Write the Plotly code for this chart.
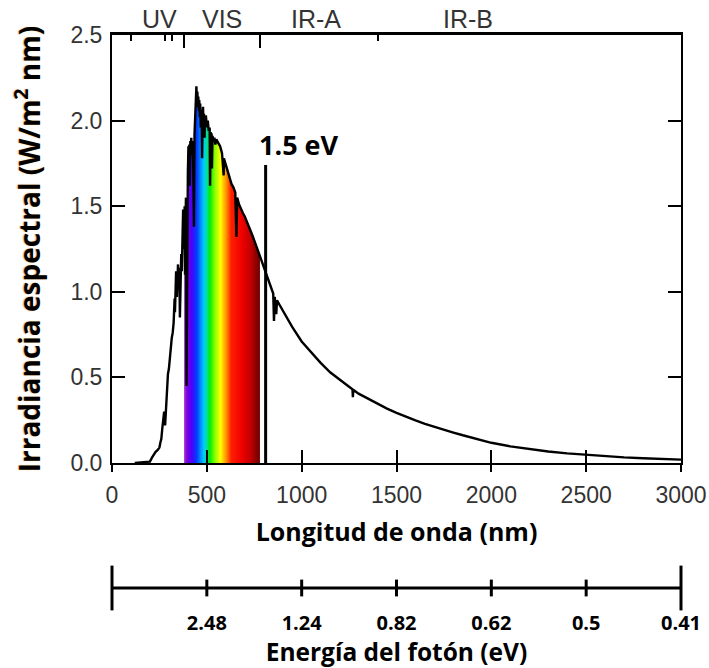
import plotly.graph_objects as go

# ---------------- data (rows of 10 correspond between the two lists) ----------------
wavelength_nm = [
    120, 160, 200, 210, 220, 230, 240, 250, 255, 260,
    265, 270, 275, 280, 285, 290, 295, 300, 305, 310,
    315, 320, 325, 330, 332, 335, 338, 340, 342, 345,
    348, 350, 355, 358, 360, 362, 365, 368, 370, 372,
    375, 378, 380, 383, 385, 388, 390, 393, 395, 397,
    400, 403, 405, 408, 410, 413, 415, 418, 420, 423,
    425, 428, 430, 432, 435, 438, 440, 443, 445, 448,
    450, 453, 455, 458, 460, 463, 465, 468, 470, 473,
    475, 478, 480, 483, 485, 488, 490, 493, 495, 500,
    505, 510, 515, 517, 520, 525, 527, 530, 535, 540,
    545, 550, 560, 570, 580, 589, 590, 600, 610, 620,
    630, 640, 650, 656, 660, 670, 680, 690, 700, 720,
    740, 760, 780, 800, 820, 840, 850, 854, 858, 866,
    870, 880, 900, 920, 950, 1000, 1050, 1100, 1150, 1200,
    1250, 1268, 1270, 1272, 1300, 1350, 1400, 1450, 1500, 1550,
    1600, 1650, 1700, 1750, 1800, 1850, 1900, 1950, 2000, 2100,
    2200, 2300, 2400, 2500, 2600, 2700, 2800, 2900, 3000,
]
irradiance = [
    0.0, 0.004, 0.008, 0.03, 0.05, 0.065, 0.075, 0.09, 0.12, 0.14,
    0.20, 0.26, 0.30, 0.22, 0.35, 0.47, 0.52, 0.55, 0.62, 0.66,
    0.73, 0.76, 0.82, 0.96, 0.88, 1.00, 1.12, 1.08, 0.97, 1.12,
    1.16, 1.04, 1.14, 0.85, 1.08, 1.15, 1.22, 1.12, 1.35, 1.28,
    1.48, 1.30, 1.25, 1.50, 1.10, 1.45, 1.55, 0.45, 1.20, 0.55,
    1.70, 1.85, 1.72, 1.86, 1.62, 1.88, 1.80, 1.90, 1.84, 1.88,
    1.86, 1.75, 1.50, 1.38, 1.92, 1.98, 2.05, 2.12, 2.20, 2.10,
    2.17, 2.08, 2.14, 2.06, 2.12, 2.02, 2.10, 1.96, 2.06, 2.00,
    1.78, 2.04, 2.08, 1.94, 2.04, 1.90, 2.02, 1.98, 2.03, 1.96,
    2.00, 1.94, 1.96, 1.62, 1.93, 1.92, 1.72, 1.91, 1.88, 1.90,
    1.86, 1.89, 1.87, 1.85, 1.81, 1.68, 1.78, 1.74, 1.71, 1.67,
    1.63, 1.61, 1.58, 1.32, 1.55, 1.51, 1.48, 1.46, 1.44, 1.39,
    1.33, 1.27, 1.21, 1.14, 1.08, 1.02, 0.99, 0.83, 0.97, 0.87,
    0.95, 0.93, 0.89, 0.855, 0.795, 0.71, 0.645, 0.585, 0.53, 0.485,
    0.445, 0.43, 0.385, 0.428, 0.405, 0.375, 0.345, 0.318, 0.293, 0.27,
    0.249, 0.229, 0.211, 0.194, 0.178, 0.162, 0.147, 0.132, 0.118, 0.097,
    0.08, 0.067, 0.056, 0.047, 0.04, 0.033, 0.028, 0.024, 0.02,
]
assert len(wavelength_nm) == len(irradiance)

visible_range = [380, 780]
marker_wl = 810          # 1.5 eV marker line
marker_top = 1.74
marker_label = "1.5 eV"
marker_label_wl = 765
marker_label_y = 1.86

wl_range = [0, 3000]
irr_range = [0, 2.5]
wl_ticks = [0, 500, 1000, 1500, 2000, 2500, 3000]
energy_tick_wl = [500, 1000, 1500, 2000, 2500, 3000]
energy_labels = ["2.48", "1.24", "0.82", "0.62", "0.5", "0.41"]

band_bounds_major = [380, 780]
band_bounds_minor = [100, 280, 315, 1400]
band_labels = ["UV", "VIS", "IR-A", "IR-B"]
band_label_wl = [253, 582, 1075, 1879]

rainbow = [
    [0.00, "#a040c8"], [0.04, "#8000e0"], [0.10, "#4a00ff"], [0.17, "#0040ff"],
    [0.22, "#0090ff"], [0.26, "#00c8ff"], [0.30, "#00e0a0"], [0.34, "#00f000"],
    [0.41, "#90ff00"], [0.48, "#ffff00"], [0.55, "#ff9900"], [0.62, "#ff2000"],
    [0.76, "#f00000"], [0.88, "#c00000"], [1.00, "#6a0000"],
]

vis_wl = [w for w in wavelength_nm if visible_range[0] <= w <= visible_range[1]]
vis_irr = [v for w, v in zip(wavelength_nm, irradiance) if visible_range[0] <= w <= visible_range[1]]

TICK_FONT = dict(family="Liberation Sans, Arial, sans-serif", size=23, color="#333333")
BOLD_FONT = "Open Sans, Lato, sans-serif"

fig = go.Figure()

# rainbow fill of the visible band
fig.add_trace(go.Scatter(
    x=vis_wl, y=vis_irr, mode="lines", line=dict(width=0),
    fill="tozeroy", fillgradient=dict(type="horizontal", colorscale=rainbow),
    hoverinfo="skip", showlegend=False, xaxis="x", yaxis="y",
))
# spectrum line
fig.add_trace(go.Scatter(
    x=wavelength_nm, y=irradiance, mode="lines",
    line=dict(color="black", width=2.4), showlegend=False, xaxis="x", yaxis="y",
))
# 1.5 eV marker line
fig.add_trace(go.Scatter(
    x=[marker_wl, marker_wl], y=[0, marker_top], mode="lines",
    line=dict(color="black", width=3), showlegend=False, xaxis="x", yaxis="y",
))

# photon energy axis (drawn as a line with tick marks)
fig.add_trace(go.Scatter(
    x=wl_range, y=[0, 0], mode="lines", line=dict(color="black", width=3),
    showlegend=False, xaxis="x2", yaxis="y2", cliponaxis=False, hoverinfo="skip",
))
fig.add_trace(go.Scatter(
    x=wl_range, y=[0, 0], mode="markers",
    marker=dict(symbol="line-ns", size=32, line=dict(color="black", width=3)),
    showlegend=False, xaxis="x2", yaxis="y2", cliponaxis=False, hoverinfo="skip",
))
fig.add_trace(go.Scatter(
    x=energy_tick_wl[:-1], y=[0] * (len(energy_tick_wl) - 1), mode="markers",
    marker=dict(symbol="line-ns", size=12, line=dict(color="black", width=3)),
    showlegend=False, xaxis="x2", yaxis="y2", cliponaxis=False, hoverinfo="skip",
))
# dummy traces for overlay axes
fig.add_trace(go.Scatter(x=[None], y=[None], xaxis="x3", yaxis="y", showlegend=False))
fig.add_trace(go.Scatter(x=[None], y=[None], xaxis="x4", yaxis="y", showlegend=False))

y_main_bottom = (606 - 463) / 571

fig.update_layout(
    width=709, height=668,
    margin=dict(l=112, r=28, t=35, b=62),
    paper_bgcolor="white", plot_bgcolor="white",
    showlegend=False,
    xaxis=dict(
        domain=[0, 1], range=wl_range, anchor="y",
        tickmode="array", tickvals=wl_ticks,
        ticks="inside", ticklen=13, tickwidth=2, tickcolor="black",
        showline=True, linewidth=2, linecolor="black", mirror=True,
        showgrid=False, zeroline=False, tickfont=TICK_FONT, ticklabelstandoff=10,
        title=dict(text="Longitud de onda (nm)", standoff=17,
                   font=dict(family=BOLD_FONT, size=25, color="black", weight="bold")),
        automargin=False,
    ),
    xaxis4=dict(
        overlaying="x", anchor="y", side="bottom", range=wl_range,
        tickmode="array", tickvals=wl_ticks,
        ticks="outside", ticklen=8, tickwidth=2, tickcolor="black",
        showticklabels=False, showline=False, showgrid=False, zeroline=False,
        automargin=False,
    ),
    xaxis3=dict(
        overlaying="x", anchor="y", side="top", range=wl_range,
        tickmode="array", tickvals=band_bounds_major,
        ticks="inside", ticklen=13, tickwidth=2, tickcolor="black",
        minor=dict(tickmode="array", tickvals=band_bounds_minor, ticks="inside",
                   ticklen=6, tickwidth=2, tickcolor="black", showgrid=False),
        showticklabels=False, showline=True, linewidth=2.5, linecolor="black",
        showgrid=False, zeroline=False,
        automargin=False,
    ),
    yaxis=dict(
        domain=[y_main_bottom, 1], range=irr_range, anchor="x",
        tick0=0, dtick=0.5, tickformat=".1f",
        ticks="inside", ticklen=13, tickwidth=2, tickcolor="black",
        showline=True, linewidth=2, linecolor="black", mirror="ticks",
        showgrid=False, zeroline=False, tickfont=TICK_FONT, ticklabelstandoff=3,
        title=dict(text="Irradiancia espectral (W/m<sup>2</sup> nm)", standoff=22,
                   font=dict(family=BOLD_FONT, size=28, color="black", weight="bold",
                             shadow="0px -1px 1px rgba(235,150,30,0.8)")),
        automargin=False,
    ),
    xaxis2=dict(
        domain=[0, 1], range=wl_range, anchor="y2",
        tickmode="array", tickvals=energy_tick_wl, ticktext=energy_labels,
        ticks="", showline=False, showgrid=False, zeroline=False, ticklabelstandoff=3,
        tickfont=dict(family=BOLD_FONT, size=20, color="black", weight="bold"),
        title=dict(text="Energía del fotón (eV)", standoff=2,
                   font=dict(family=BOLD_FONT, size=24.5, color="black", weight="bold")),
        automargin=False,
    ),
    yaxis2=dict(domain=[0, (606 - 570) / 571], range=[-1, 1], anchor="x2", visible=False),
)

annotations = [
    dict(x=marker_label_wl, y=marker_label_y, xref="x", yref="y", text=marker_label,
         showarrow=False, xanchor="left", yanchor="middle",
         font=dict(family=BOLD_FONT, size=27, color="black", weight="bold")),
]
for lab, xw in zip(band_labels, band_label_wl):
    annotations.append(dict(x=xw, y=irr_range[1], xref="x", yref="y", text=lab,
                            showarrow=False, xanchor="center", yanchor="bottom", yshift=0,
                            font=dict(family="Liberation Sans, Arial, sans-serif",
                                      size=25, color="#333333")))
fig.update_layout(annotations=annotations)

fig.write_html("out.html")
